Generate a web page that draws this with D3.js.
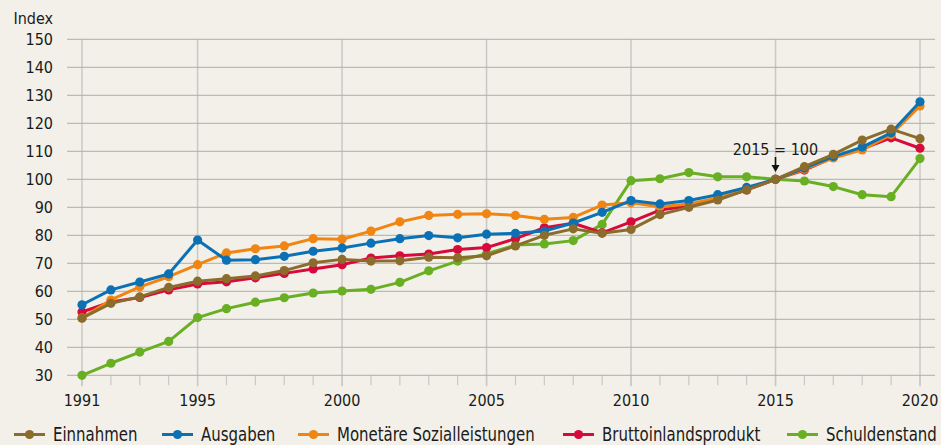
<!DOCTYPE html>
<html>
<head>
<meta charset="utf-8">
<script src="https://cdn.jsdelivr.net/npm/d3@7/dist/d3.min.js"></script>
<style>
    body { margin: 0; background: #f2f0e8; }
    #chart svg { display: block; }
    .tick-label { font-family: "DejaVu Sans Condensed", "DejaVu Sans", sans-serif; font-size: 16px; fill: #1a1a1a; }
    .legend-label { font-family: "DejaVu Sans Condensed", "DejaVu Sans", sans-serif; font-size: 19px; fill: #1a1a1a; }
</style>
</head>
<body>
<div id="chart"></div>
<script>
// Data (Index, 2015 = 100)
const years = [1991, 1992, 1993, 1994, 1995, 1996, 1997, 1998, 1999, 2000,
               2001, 2002, 2003, 2004, 2005, 2006, 2007, 2008, 2009, 2010,
               2011, 2012, 2013, 2014, 2015, 2016, 2017, 2018, 2019, 2020];

const einnahmen = [50.4, 55.7, 58.0, 61.4, 63.6, 64.5, 65.5, 67.4, 70.2, 71.4,
                   70.8, 70.9, 72.2, 72.0, 72.7, 76.2, 80.0, 82.3, 80.7, 82.1,
                   87.4, 90.0, 92.6, 96.2, 100, 104.5, 108.9, 114.0, 117.9, 114.5];

const ausgaben = [55.2, 60.5, 63.3, 66.2, 78.3, 71.1, 71.3, 72.5, 74.3, 75.5,
                  77.2, 78.8, 79.9, 79.1, 80.4, 80.7, 81.5, 84.4, 88.2, 92.4,
                  91.2, 92.4, 94.5, 97.1, 100, 104.0, 108.1, 111.5, 116.6, 127.7];

const sozialleistungen = [50.5, 56.9, 61.6, 65.2, 69.5, 73.7, 75.2, 76.2, 78.8, 78.6,
                          81.5, 84.8, 87.1, 87.5, 87.7, 87.1, 85.7, 86.4, 90.8, 91.6,
                          90.2, 91.2, 93.3, 96.4, 100, 103.6, 107.6, 110.5, 115.9, 126.2];

const bip = [52.6, 56.2, 57.8, 60.5, 62.6, 63.4, 64.8, 66.4, 68.0, 69.5,
             71.9, 72.7, 73.3, 74.9, 75.6, 78.8, 82.7, 84.3, 80.9, 84.8,
             89.0, 90.5, 93.1, 96.2, 100, 103.3, 107.8, 110.9, 114.8, 111.1];

const schuldenstand = [30.0, 34.3, 38.3, 42.1, 50.6, 53.8, 56.1, 57.7, 59.4, 60.1,
                       60.7, 63.2, 67.3, 70.8, 73.4, 76.5, 76.9, 78.1, 83.9, 99.5,
                       100.2, 102.4, 100.9, 100.9, 100, 99.4, 97.4, 94.5, 93.8, 107.4];

const yTicks = [30, 40, 50, 60, 70, 80, 90, 100, 110, 120, 130, 140, 150];
const xLabelYears = [1991, 1995, 2000, 2005, 2010, 2015, 2020];

const seriesNames = ['Einnahmen', 'Ausgaben', 'Monetäre Sozialleistungen', 'Bruttoinlandsprodukt', 'Schuldenstand'];
const seriesValues = [einnahmen, ausgaben, sozialleistungen, bip, schuldenstand];
const seriesColors = ['#8c6c2c', '#0b71b4', '#f18512', '#d70a3b', '#69af24'];

// Layout
const width = 941, height = 445;
const plot = { left: 82, right: 920, top: 39.3, bottom: 375.3 };
const gridLeft = 67, gridRight = 935;
const legendY = 434.5;
const legendX = [14, 162, 298, 563, 787];
const legendSquash = 0.875; // the original legend uses a narrow face

const svg = d3.select('#chart')
    .append('svg')
    .attr('width', width)
    .attr('height', height);

svg.append('rect')
    .attr('width', width)
    .attr('height', height)
    .attr('fill', '#f2f0e8');

// Scales
const xScale = d3.scaleLinear()
    .domain([years[0], years[years.length - 1]])
    .range([plot.left, plot.right]);

const yScale = d3.scaleLinear()
    .domain([30, 150])
    .range([plot.bottom, plot.top]);

// Vertical grid lines at labelled years
svg.append('g')
    .selectAll('line')
    .data(xLabelYears)
    .enter()
    .append('line')
    .attr('x1', d => xScale(d))
    .attr('x2', d => xScale(d))
    .attr('y1', plot.top)
    .attr('y2', plot.bottom + 11)
    .attr('stroke', '#c9c8c4')
    .attr('stroke-width', 1.5);

// Minor ticks for each year
svg.append('g')
    .selectAll('line')
    .data(years)
    .enter()
    .append('line')
    .attr('x1', d => xScale(d))
    .attr('x2', d => xScale(d))
    .attr('y1', plot.bottom)
    .attr('y2', plot.bottom + 10)
    .attr('stroke', '#c9c8c4')
    .attr('stroke-width', 1.2);

// Horizontal grid lines
svg.append('g')
    .selectAll('line')
    .data(yTicks)
    .enter()
    .append('line')
    .attr('x1', gridLeft)
    .attr('x2', gridRight)
    .attr('y1', d => yScale(d))
    .attr('y2', d => yScale(d))
    .attr('stroke', '#adadab')
    .attr('stroke-width', 1);

// Y tick labels
svg.append('g')
    .selectAll('text')
    .data(yTicks)
    .enter()
    .append('text')
    .attr('class', 'tick-label')
    .attr('x', 53)
    .attr('y', d => yScale(d) + 6)
    .attr('text-anchor', 'end')
    .text(d => d);

svg.append('text')
    .attr('class', 'tick-label')
    .attr('x', 53)
    .attr('y', 24)
    .attr('text-anchor', 'end')
    .text('Index');

// X tick labels
svg.append('g')
    .selectAll('text')
    .data(xLabelYears)
    .enter()
    .append('text')
    .attr('class', 'tick-label')
    .attr('x', d => xScale(d))
    .attr('y', 406)
    .attr('text-anchor', 'middle')
    .text(d => d);

// Lines (drawn in reverse so Einnahmen ends up on top)
const line = d3.line()
    .x((d, i) => xScale(years[i]))
    .y(d => yScale(d));

const order = d3.range(seriesNames.length).reverse();

order.forEach(k => {
    const g = svg.append('g');
    g.append('path')
        .datum(seriesValues[k])
        .attr('fill', 'none')
        .attr('stroke', seriesColors[k])
        .attr('stroke-width', 3)
        .attr('stroke-linejoin', 'round')
        .attr('d', line);
    g.selectAll('circle')
        .data(seriesValues[k])
        .enter()
        .append('circle')
        .attr('cx', (d, i) => xScale(years[i]))
        .attr('cy', d => yScale(d))
        .attr('r', 4.6)
        .attr('fill', seriesColors[k]);
});

// Annotation 2015 = 100
const ax = xScale(2015);
svg.append('text')
    .attr('class', 'tick-label')
    .attr('x', ax)
    .attr('y', 154.5)
    .attr('text-anchor', 'middle')
    .text('2015 = 100');

svg.append('line')
    .attr('x1', ax)
    .attr('x2', ax)
    .attr('y1', 157)
    .attr('y2', 168)
    .attr('stroke', '#111')
    .attr('stroke-width', 1.6);

svg.append('path')
    .attr('d', `M${ax - 4},${165} L${ax + 4},${165} L${ax},${172} Z`)
    .attr('fill', '#111');

// Legend (kept just inside the bottom edge so descenders are not clipped)
const legend = svg.append('g');
seriesNames.forEach((name, k) => {
    const x0 = legendX[k];
    legend.append('line')
        .attr('x1', x0)
        .attr('x2', x0 + 31)
        .attr('y1', legendY)
        .attr('y2', legendY)
        .attr('stroke', seriesColors[k])
        .attr('stroke-width', 3);
    legend.append('circle')
        .attr('cx', x0 + 15.5)
        .attr('cy', legendY)
        .attr('r', 4.6)
        .attr('fill', seriesColors[k]);
    legend.append('text')
        .attr('class', 'legend-label')
        .attr('transform', `translate(${x0 + 39},${legendY + 6}) scale(${legendSquash},1)`)
        .text(name);
});
</script>
</body>
</html>
